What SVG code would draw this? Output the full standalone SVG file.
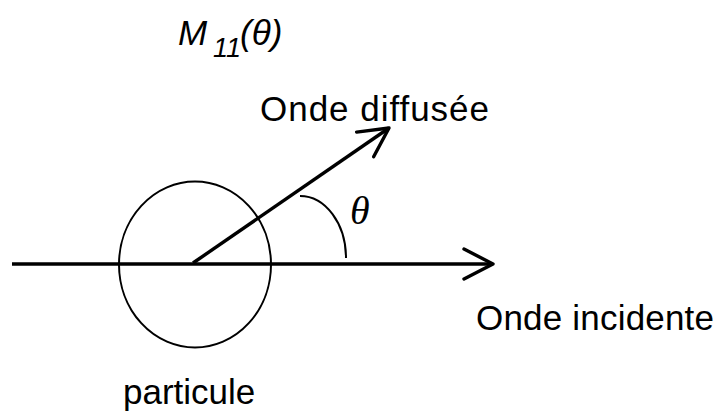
<svg xmlns="http://www.w3.org/2000/svg" width="722" height="414" viewBox="0 0 722 414">
<style>
.lbl{font-family:"Liberation Sans",Arial,sans-serif;font-size:35px;fill:#000}
.ital{font-family:"Liberation Sans",Arial,sans-serif;font-style:italic;fill:#000}
.theta{font-family:"Liberation Serif","Times New Roman",serif;font-style:italic;font-size:40px;fill:#000}
.wave{stroke:#000;stroke-width:3.4;fill:none;marker-end:url(#arr)}
.thin{stroke:#000;stroke-width:2;fill:none}
</style>
<defs>
<marker id="arr" markerUnits="userSpaceOnUse" viewBox="-34 -20 38 40" markerWidth="38" markerHeight="40" refX="0" refY="0" orient="auto" overflow="visible">
<path d="M-29,-15 L0,0 L-29,15" fill="none" stroke="#000" stroke-width="3.4" stroke-linecap="round" stroke-linejoin="round"/>
</marker>
</defs>
<g id="particule">
<ellipse cx="195" cy="264.5" rx="76" ry="83" class="thin"/>
<text class="lbl" x="123" y="404">particule</text>
</g>
<g id="connectors">
<line x1="12" y1="264" x2="493" y2="264" class="wave"/>
<line x1="193" y1="263" x2="389" y2="128" class="wave"/>
<path d="M300,196 A46,62 0 0 1 346,258" class="thin"/>
</g>
<g id="onde-incidente">
<text class="lbl" x="476" y="330" textLength="238">Onde incidente</text>
</g>
<g id="onde-diffusee">
<text class="lbl" x="260" y="121" textLength="229">Onde diffusée</text>
</g>
<g id="angle">
<text class="theta" x="350" y="224">θ</text>
</g>
<g id="titre">
<text class="ital" x="178" y="45" font-size="35">M</text>
<text class="ital" x="213" y="57" font-size="27">11</text>
<text class="ital" x="240" y="45" font-size="35">(θ)</text>
</g>
</svg>
